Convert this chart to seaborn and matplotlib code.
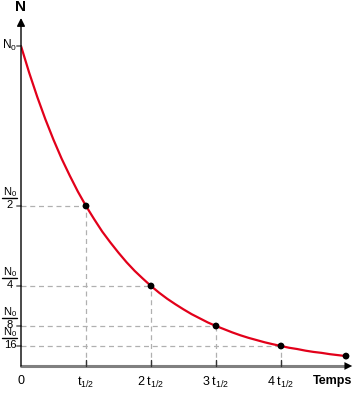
import pandas as pd
import seaborn as sns
import matplotlib.pyplot as plt
from matplotlib import transforms

# decay curve (t in half-lives, N as fraction of N0)
curve_t = [0, 0.125, 0.25, 0.375, 0.5, 0.625, 0.75, 0.875, 1, 1.125, 1.25,
           1.375, 1.5, 1.625, 1.75, 1.875, 2, 2.125, 2.25, 2.375, 2.5, 2.625,
           2.75, 2.875, 3, 3.125, 3.25, 3.375, 3.5, 3.625, 3.75, 3.875, 4,
           4.125, 4.25, 4.375, 4.5, 4.625, 4.75, 4.875, 5]
curve_n = [1.0, 0.917, 0.841, 0.771, 0.707, 0.648, 0.595, 0.545, 0.5, 0.459,
           0.42, 0.386, 0.354, 0.324, 0.297, 0.273, 0.25, 0.229, 0.21, 0.193,
           0.177, 0.162, 0.149, 0.136, 0.125, 0.115, 0.105, 0.096, 0.088,
           0.081, 0.074, 0.068, 0.0625, 0.057, 0.053, 0.048, 0.044, 0.041,
           0.037, 0.034, 0.031]

point_t = [1, 2, 3, 4, 5]
point_n = [0.5, 0.25, 0.125, 0.0625, 0.031]

frac_ticks = [0.5, 0.25, 0.125, 0.0625]
frac_denoms = ['2', '4', '8', '16']
x_ticks = [0, 1, 2, 3, 4]
x_labels = ['0', r'$\mathregular{t_{1/2}}$', r'$\mathregular{2\;t_{1/2}}$',
            r'$\mathregular{3\;t_{1/2}}$', r'$\mathregular{4\;t_{1/2}}$']

sns.set_style("white")
plt.rcParams['font.family'] = ['Liberation Sans', 'DejaVu Sans']
plt.rcParams['mathtext.fontset'] = 'custom'
plt.rcParams['mathtext.rm'] = 'Liberation Sans'
plt.rcParams['mathtext.it'] = 'Liberation Sans'
plt.rcParams['text.color'] = 'black'

fig = plt.figure(figsize=(3.55, 3.93), dpi=100)
ax = fig.add_axes([21 / 355, 27 / 393, 334 / 355, 348 / 393])
ax.set_xlim(0, 334 / 65)
ax.set_ylim(0, 348 / 320)
ax.axis('off')


def shifted(dx, dy):
    # data coords moved by (dx, dy) pixels
    return ax.transData + transforms.ScaledTranslation(dx / 100, dy / 100,
                                                       fig.dpi_scale_trans)


grey = '#b0b0b0'
for t, n in zip(point_t[:4], point_n[:4]):
    ax.plot([0, t], [n, n], color=grey, lw=0.9, ls=(0, (4, 3)))
    ax.plot([t, t], [0, n], color=grey, lw=0.9, ls=(0, (4, 3)))

df = pd.DataFrame({'t': curve_t, 'N': curve_n})
sns.lineplot(data=df, x='t', y='N', color='#e2001a', lw=1.6, ax=ax)
sns.scatterplot(x=point_t, y=point_n, color='black', s=24, zorder=5,
                edgecolor='none', ax=ax)

# axes with arrows
ax.plot([0, 5.0], [0, 0], color='#808080', lw=2.2, clip_on=False)
ax.annotate('', xy=(334 / 65, 0), xytext=(4.95, 0),
            arrowprops=dict(arrowstyle='-|>', color='black', lw=0,
                            mutation_scale=14), annotation_clip=False)
ax.annotate('', xy=(0, 348 / 320), xytext=(0, 0),
            arrowprops=dict(arrowstyle='-|>', color='black', lw=1.0,
                            mutation_scale=12, shrinkA=0, shrinkB=0),
            annotation_clip=False)

# small tick marks
for y in [1.0] + frac_ticks:
    ax.plot([-4 / 65, 0], [y, y], color='#808080', lw=1.4, clip_on=False)
for x in x_ticks[1:]:
    ax.plot([x, x], [0, 6 / 320], color='#333333', lw=1.0, clip_on=False)

fs = 7.5
ax.text(0, 1, r'$\mathregular{N_0}$', transform=shifted(-12, 1),
        ha='center', va='center', fontsize=8.5, clip_on=False)
for y, d in zip(frac_ticks, frac_denoms):
    ax.text(0, y, r'$\mathregular{N_0}$', transform=shifted(-11, 10.5),
            ha='center', va='baseline', fontsize=fs + 0.5, clip_on=False)
    ax.text(0, y, d, transform=shifted(-11, 6), ha='center', va='top',
            fontsize=fs + 0.5, clip_on=False)
    ax.plot([-19 / 65, -4 / 65], [y, y], transform=shifted(0, 8),
            color='black', lw=1.0, clip_on=False)
for x, lab in zip(x_ticks, x_labels):
    ax.text(x, 0, lab, transform=shifted(0, -9), ha='center', va='top',
            fontsize=9, clip_on=False)
ax.text(0, 0, 'Temps', transform=shifted(312, -9), ha='center', va='top',
        fontweight='bold', fontsize=9, clip_on=False)
ax.text(0, 348 / 320, 'N', transform=shifted(0, 4), ha='center', va='bottom',
        fontweight='bold', fontsize=11, clip_on=False)

fig.savefig('out.png', dpi=100)
